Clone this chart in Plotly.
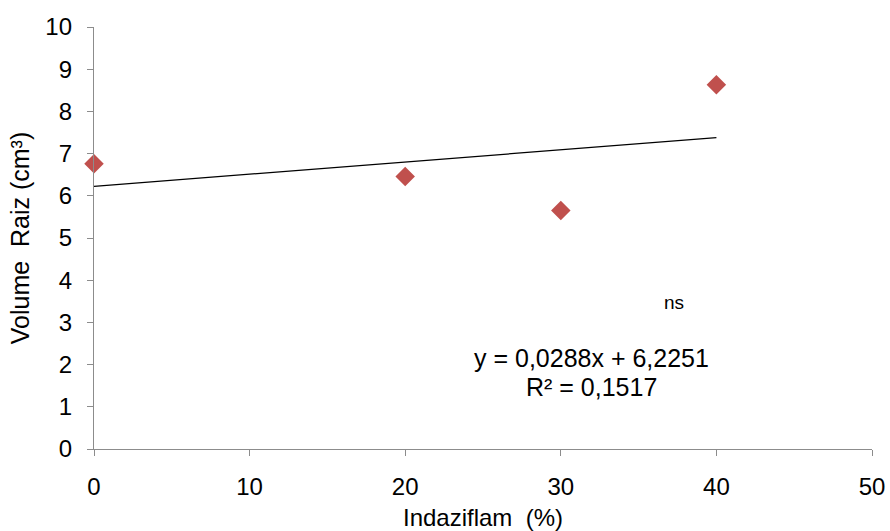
import plotly.graph_objects as go

# Indaziflam dose (%) and mean root volume (cm³)
dose = [0, 20, 30, 40]
root_volume = [6.76, 6.46, 5.65, 8.63]

# Linear trendline coefficients reported for the fit
slope = 0.0288
intercept = 6.2251
r_squared = 0.1517
trend_x = [0, 40]
trend_y = [intercept + slope * x for x in trend_x]

x_ticks = [0, 10, 20, 30, 40, 50]
y_ticks = [0, 1, 2, 3, 4, 5, 6, 7, 8, 9, 10]

font_family = "Liberation Sans, Arial, sans-serif"
axis_gray = "#8c8c8c"


def comma(v):
    return f"{v:.4f}".replace(".", ",")


fig = go.Figure()

fig.add_trace(go.Scatter(
    x=trend_x, y=trend_y, mode="lines",
    line=dict(color="black", width=1.2),
    hoverinfo="skip", showlegend=False,
))

fig.add_trace(go.Scatter(
    x=dose, y=root_volume, mode="markers",
    marker=dict(symbol="diamond", size=15, color="#C0504D", line=dict(width=0)),
    cliponaxis=False, showlegend=False,
))

# Trendline equation and R² label
fig.add_annotation(
    x=32.0, y=2.15, xref="x", yref="y",
    text=f"y = {comma(slope)}x + {comma(intercept)}", showarrow=False,
    font=dict(family=font_family, size=25, color="black"),
)
fig.add_annotation(
    x=32.0, y=1.48, xref="x", yref="y",
    text=f"R² = {comma(r_squared)}", showarrow=False,
    font=dict(family=font_family, size=25, color="black"),
)
fig.add_annotation(
    x=37.3, y=3.46, xref="x", yref="y", text="ns", showarrow=False,
    font=dict(family=font_family, size=19, color="black"),
)

fig.update_layout(
    width=890, height=531,
    margin=dict(l=94, r=18, t=27, b=82),
    paper_bgcolor="white", plot_bgcolor="white",
    font=dict(family=font_family, color="black"),
)

fig.update_xaxes(
    range=[0, 50], tickvals=x_ticks, ticktext=[str(v) for v in x_ticks],
    automargin=False,
    showgrid=False, zeroline=False,
    showline=True, linecolor=axis_gray, linewidth=1.3,
    ticks="outside", ticklen=6, tickcolor=axis_gray, tickwidth=1.3,
    ticklabelstandoff=10,
    tickfont=dict(family=font_family, size=24, color="black"),
    title=dict(text="Indaziflam  (%)", font=dict(family=font_family, size=24, color="black"), standoff=16),
)
fig.update_yaxes(
    range=[0, 10], tickvals=y_ticks, ticktext=[str(v) for v in y_ticks],
    automargin=False,
    showgrid=False, zeroline=False,
    showline=True, linecolor=axis_gray, linewidth=1.3,
    ticks="outside", ticklen=6, tickcolor=axis_gray, tickwidth=1.3,
    ticklabelstandoff=10,
    tickfont=dict(family=font_family, size=24, color="black"),
    title=dict(text="Volume  Raiz (cm³)", font=dict(family=font_family, size=25, color="black"), standoff=8),
)

fig.write_html("out.html")
